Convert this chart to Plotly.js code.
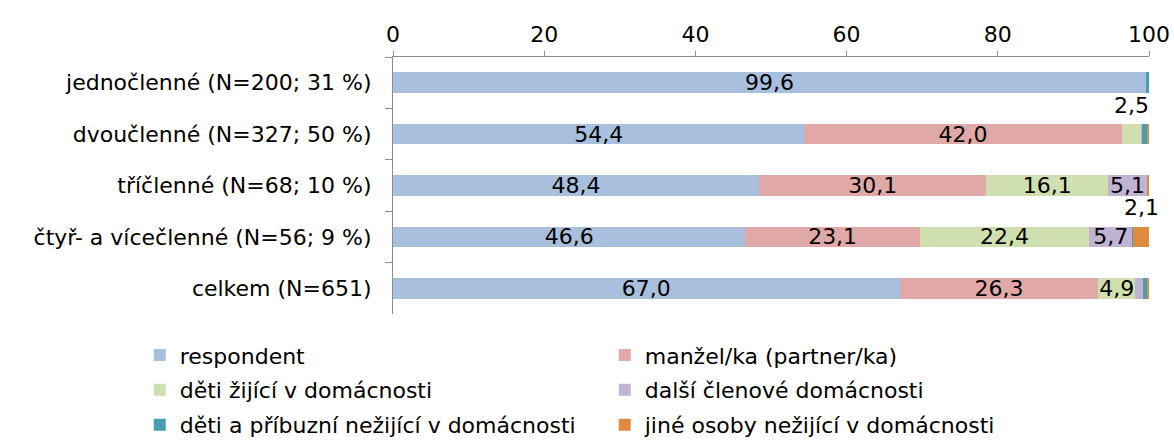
<!DOCTYPE html>
<html>
<head>
<meta charset="utf-8">
<script src="https://cdn.plot.ly/plotly-3.0.1.min.js"></script>
<style>
  body { margin: 0; background: #fff; }
  #chart { width: 1174px; height: 441px; }
</style>
</head>
<body>
<div id="chart"></div>
<script>
// household types (rows, top to bottom)
const categories = [
  "jednočlenné (N=200; 31 %)",
  "dvoučlenné (N=327; 50 %)",
  "tříčlenné (N=68; 10 %)",
  "čtyř- a vícečlenné (N=56; 9 %)",
  "celkem (N=651)"
];

const seriesNames = [
  "respondent",
  "manžel/ka (partner/ka)",
  "děti žijící v domácnosti",
  "další členové domácnosti",
  "děti a příbuzní nežijící v domácnosti",
  "jiné osoby nežijící v domácnosti"
];

const respondent = [99.6, 54.4, 48.4, 46.6, 67.0];
const partner    = [0.0, 42.0, 30.1, 23.1, 26.3];
const childrenIn = [0.0, 2.5, 16.1, 22.4, 4.9];
const otherIn    = [0.0, 0.2, 5.1, 5.7, 1.0];
const relativesOut = [0.4, 0.6, 0.0, 0.1, 0.5];
const othersOut  = [0.0, 0.3, 0.3, 2.1, 0.3];

const colors = ["#a8c0de", "#e1a8a8", "#d0dfb0", "#c0b3d4", "#4a9db3", "#e08a3f"];

const allSeries = [respondent, partner, childrenIn, otherIn, relativesOut, othersOut];

// two legend entries per row, one legend per row
const legendIds = ["legend", "legend", "legend2", "legend2", "legend3", "legend3"];

const fmt = v => v.toFixed(1).replace(".", ",");

const fontFam = "DejaVu Sans, Verdana, sans-serif";
const fs = 22;

let data = allSeries.map((vals, i) => ({
  type: "bar",
  orientation: "h",
  name: seriesNames[i],
  legend: legendIds[i],
  x: vals,
  y: categories,
  marker: { color: colors[i] },
  text: vals.map(v => v >= 4 ? fmt(v) : ""),
  textposition: "inside",
  insidetextanchor: "middle",
  textfont: { color: "#000", size: fs, family: fontFam },
  hoverinfo: "x+name"
}));

// small values shown above their segment
let annotations = [];
categories.forEach((cat, r) => {
  let cum = 0;
  allSeries.forEach(vals => {
    const v = vals[r];
    if (v >= 2 && v < 4) {
      annotations.push({
        x: cum + v / 2, y: cat, xref: "x", yref: "y",
        text: fmt(v), showarrow: false, yshift: 29,
        font: { size: fs, color: "#000", family: fontFam }
      });
    }
    cum += v;
  });
});

function legendRow(y) {
  return {
    orientation: "h",
    traceorder: "normal",
    x: -0.335, xanchor: "left",
    y: y, yanchor: "middle",
    entrywidth: 420,
    itemwidth: 30,
    bgcolor: "rgba(0,0,0,0)",
    font: { size: fs, family: fontFam, color: "#000" }
  };
}

let layout = {
  width: 1174,
  height: 441,
  margin: { l: 393, r: 25, t: 57, b: 127, autoexpand: false },
  barmode: "stack",
  bargap: 0.6,
  paper_bgcolor: "#fff",
  plot_bgcolor: "#fff",
  font: { family: fontFam, size: fs, color: "#000" },
  uniformtext: { mode: "show", minsize: fs },
  showlegend: true,
  legend: legendRow(-0.16),
  legend2: legendRow(-0.296),
  legend3: legendRow(-0.432),
  xaxis: {
    side: "top",
    range: [0, 100],
    tickvals: [0, 20, 40, 60, 80, 100],
    showgrid: false,
    zeroline: false,
    showline: true,
    linecolor: "#8c8c8c",
    ticks: "outside",
    ticklen: 5,
    tickcolor: "#8c8c8c",
    tickfont: { size: fs },
    fixedrange: true
  },
  yaxis: {
    autorange: "reversed",
    showgrid: false,
    showline: true,
    linecolor: "#8c8c8c",
    ticks: "outside",
    tickson: "boundaries",
    ticklen: 7,
    tickcolor: "#8c8c8c",
    tickfont: { size: fs },
    ticklabelstandoff: 16,
    fixedrange: true
  },
  annotations: annotations
};

Plotly.newPlot("chart", data, layout, { displayModeBar: false, staticPlot: true });
</script>
</body>
</html>
